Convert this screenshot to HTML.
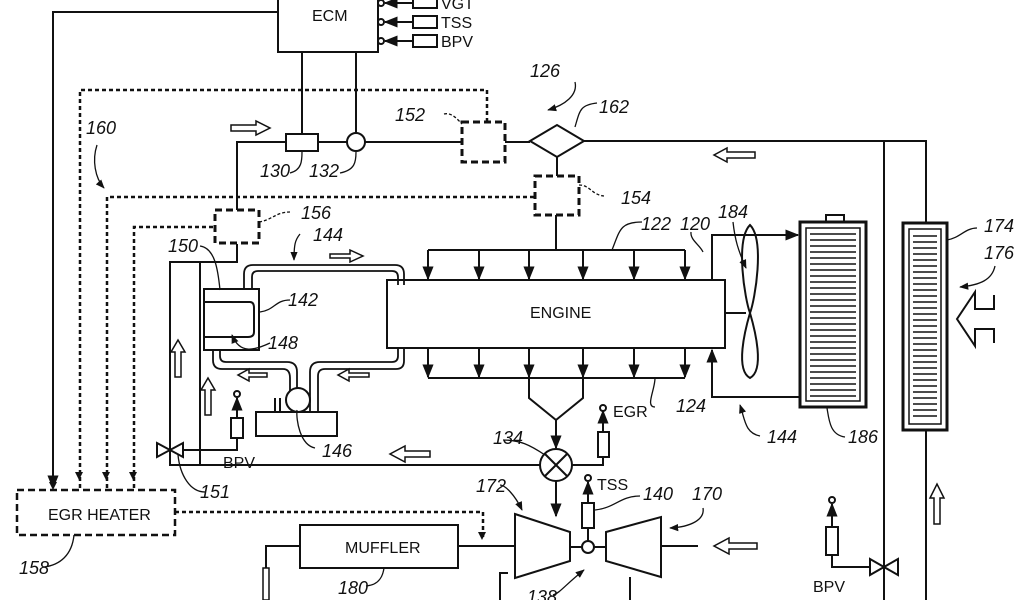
<!DOCTYPE html>
<html><head><meta charset="utf-8"><style>
html,body{margin:0;padding:0;background:#fff;}
svg{display:block;}
text{font-family:"Liberation Sans",sans-serif;fill:#111;}
.l{font-style:italic;font-size:18px;}
.t{font-size:16px;}
</style></head><body>
<svg width="1024" height="600" viewBox="0 0 1024 600" xmlns="http://www.w3.org/2000/svg">
<defs>
<marker id="a" viewBox="0 0 10 10" refX="9" refY="5" markerWidth="7" markerHeight="7" orient="auto"><path d="M0,1 L10,5 L0,9 z" fill="#111"/></marker>
</defs>
<g stroke="#111" stroke-width="2" fill="none">
<rect x="278" y="-2" width="100" height="54" fill="#fff"/>
<circle cx="381" cy="3" r="3"/><circle cx="381" cy="22" r="3"/><circle cx="381" cy="41" r="3"/>
<line x1="413" y1="3" x2="385" y2="3" marker-end="url(#a)"/>
<line x1="413" y1="22" x2="385" y2="22" marker-end="url(#a)"/>
<line x1="413" y1="41" x2="385" y2="41" marker-end="url(#a)"/>
<rect x="413" y="-3" width="24" height="11"/><rect x="413" y="16" width="24" height="12"/><rect x="413" y="35" width="24" height="12"/>
<polyline points="278,12 53,12 53,488" marker-end="url(#a)"/>
<line x1="302" y1="52" x2="302" y2="134"/>
<line x1="356" y1="52" x2="356" y2="133"/>
<polyline points="237,210 237,142 286,142"/>
<rect x="286" y="134" width="32" height="17"/>
<line x1="318" y1="142" x2="347" y2="142"/>
<circle cx="356" cy="142" r="9"/>
<line x1="365" y1="142" x2="462" y2="142"/>
<line x1="505" y1="142" x2="530" y2="142"/>
<polygon points="530,141 557,125 584,141 557,157"/>
<polyline points="584,141 926,141 926,223"/>
<line x1="884" y1="141" x2="884" y2="600"/>
<line x1="557" y1="157" x2="557" y2="176"/>
<polyline points="556,215 556,250"/>
<line x1="428" y1="250" x2="685" y2="250"/>
<line x1="428" y1="250" x2="428" y2="279" marker-end="url(#a)"/>
<line x1="479" y1="250" x2="479" y2="279" marker-end="url(#a)"/>
<line x1="529" y1="250" x2="529" y2="279" marker-end="url(#a)"/>
<line x1="583" y1="250" x2="583" y2="279" marker-end="url(#a)"/>
<line x1="634" y1="250" x2="634" y2="279" marker-end="url(#a)"/>
<line x1="685" y1="250" x2="685" y2="279" marker-end="url(#a)"/>
<rect x="387" y="280" width="338" height="68" fill="#fff"/>
<line x1="428" y1="348" x2="428" y2="377" marker-end="url(#a)"/>
<line x1="479" y1="348" x2="479" y2="377" marker-end="url(#a)"/>
<line x1="529" y1="348" x2="529" y2="377" marker-end="url(#a)"/>
<line x1="583" y1="348" x2="583" y2="377" marker-end="url(#a)"/>
<line x1="634" y1="348" x2="634" y2="377" marker-end="url(#a)"/>
<line x1="685" y1="348" x2="685" y2="377" marker-end="url(#a)"/>
<line x1="428" y1="378" x2="685" y2="378"/>
<polyline points="529,378 529,398 556,420 583,398 583,378"/>
<line x1="556" y1="420" x2="556" y2="448" marker-end="url(#a)"/>
<circle cx="556" cy="465" r="16"/>
<line x1="545" y1="454" x2="567" y2="476"/><line x1="567" y1="454" x2="545" y2="476"/>
<polyline points="572,465 603,465 603,457"/>
<rect x="598" y="432" width="11" height="25"/>
<line x1="603" y1="432" x2="603" y2="411" marker-end="url(#a)"/>
<circle cx="603" cy="408" r="3"/>
<line x1="556" y1="481" x2="556" y2="516" marker-end="url(#a)"/>
<polyline points="540,465 170,465 170,262 237,262 237,244"/>
<line x1="200" y1="262" x2="200" y2="465"/>
<polygon points="157,443 183,457 183,443 157,457" fill="#fff"/>
<polyline points="183,450 237,450 237,438"/>
<rect x="231" y="418" width="12" height="20"/>
<line x1="237" y1="418" x2="237" y2="398" marker-end="url(#a)"/>
<circle cx="237" cy="394" r="3"/>
<rect x="204" y="289" width="55" height="61"/>
<path d="M204,302 H250 Q254,302 254,308 V332 Q254,337 248,337 H204"/>
<path d="M244,289 V274 Q244,265 253,265 H395 Q404,265 404,274 V285" stroke-width="1.8"/>
<path d="M252,289 V277 Q252,271 258,271 H392 Q398,271 398,277 V285" stroke-width="1.8"/>
<path d="M213,350 V360 Q213,369 222,369 H283 Q290,369 290,378 V392" stroke-width="1.8"/>
<path d="M220,350 V356 Q220,362 226,362 H287 Q297,362 297,372 V388" stroke-width="1.8"/>
<path d="M310,412 V372 Q310,362 320,362 H392 Q398,362 398,356 V348" stroke-width="1.8"/>
<path d="M318,412 V376 Q318,369 325,369 H396 Q404,369 404,361 V348" stroke-width="1.8"/>
<circle cx="298" cy="400" r="12" fill="#fff"/>
<rect x="256" y="412" width="81" height="24" fill="#fff"/>
<line x1="275" y1="398" x2="275" y2="412"/><line x1="280" y1="398" x2="280" y2="412"/>
<rect x="17" y="490" width="158" height="45" stroke-dasharray="7,4" stroke-width="2.5"/>
<g stroke-dasharray="4,3" stroke-width="2.5">
<polyline points="80,488 80,90 487,90 487,122"/>
<polyline points="107,488 107,197 535,197"/>
<polyline points="134,488 134,227 215,227"/>
<polyline points="175,512 483,512 483,538"/>
</g>
<path d="M79,480 l-4,-8 h8z M106,480 l-4,-8 h8z M133,480 l-4,-8 h8z M482,540 l-4,-8 h8z" fill="#111" stroke="none"/>
<path d="M53,490 l-4,-8 h8z" fill="#111" stroke="none"/>
<g stroke-dasharray="7,4" stroke-width="3">
<rect x="462" y="122" width="43" height="40"/>
<rect x="535" y="176" width="44" height="39"/>
<polyline points="215,210 259,210 259,243 215,243 215,210"/>
</g>
<polygon points="515,514 570,532 570,561 515,578" fill="#fff"/>
<polygon points="606,532 661,517 661,577 606,561" fill="#fff"/>
<line x1="570" y1="547" x2="606" y2="547"/>
<circle cx="588" cy="547" r="6" fill="#fff"/>
<line x1="661" y1="546" x2="698" y2="546"/>
<line x1="588" y1="541" x2="588" y2="528"/>
<rect x="582" y="503" width="12" height="25"/>
<line x1="588" y1="503" x2="588" y2="482" marker-end="url(#a)"/>
<circle cx="588" cy="478" r="3"/>
<line x1="630" y1="577" x2="630" y2="600"/>
<polyline points="500,600 500,573 508,573"/>
<rect x="300" y="525" width="158" height="43"/>
<line x1="458" y1="546" x2="515" y2="546"/>
<polyline points="300,546 266,546 266,570"/>
<polyline points="725,280 712,280 712,235 798,235" marker-end="url(#a)"/>
<polyline points="800,397 712,397 712,350" marker-end="url(#a)"/>
<line x1="725" y1="313" x2="746" y2="313"/>
<path d="M750,225 C735,240 745,300 750,313 C755,300 765,240 750,225 Z"/>
<path d="M750,313 C745,330 735,370 750,378 C765,370 755,330 750,313 Z"/>
<rect x="800" y="222" width="66" height="185" stroke-width="3"/>
<rect x="806" y="228" width="54" height="173" stroke-width="1.5"/>
<rect x="826" y="215" width="18" height="7"/>
<rect x="903" y="223" width="44" height="207" stroke-width="3"/>
<rect x="909" y="229" width="32" height="195" stroke-width="1.5"/>
<line x1="926" y1="430" x2="926" y2="600"/>
<circle cx="832" cy="500" r="3"/>
<line x1="832" y1="527" x2="832" y2="504" marker-end="url(#a)"/>
<rect x="826" y="527" width="12" height="28"/>
<polyline points="832,555 832,567 870,567"/>
<polygon points="870,559 898,575 898,559 870,575" fill="#fff"/>
<g stroke-width="1.3">
<path d="M290,173 C302,170 302,160 302,152"/>
<path d="M340,173 C355,170 356,162 356,152"/>
<path d="M444,114 C452,112 458,120 462,124" stroke-dasharray="3,2"/>
<path d="M579,185 C590,185 592,195 604,196" stroke-dasharray="3,2"/>
<path d="M259,222 C272,220 276,212 290,212" stroke-dasharray="3,2"/>
<path d="M575,82 C578,95 565,105 548,110" marker-end="url(#a)"/>
<path d="M97,145 C92,160 95,178 104,188" marker-end="url(#a)"/>
<path d="M597,103 C580,105 580,110 575,127"/>
<path d="M642,222 C620,222 620,230 612,250"/>
<path d="M691,232 C690,240 700,245 703,252"/>
<path d="M733,222 C735,240 738,250 746,268" marker-end="url(#a)"/>
<path d="M977,228 C965,228 960,238 947,240"/>
<path d="M995,266 C992,280 980,285 960,287" marker-end="url(#a)"/>
<path d="M300,234 C295,240 294,245 294,260" marker-end="url(#a)"/>
<path d="M200,246 C215,248 218,270 220,290"/>
<path d="M290,300 C275,300 275,310 260,312"/>
<path d="M270,343 C255,350 240,355 232,335" marker-end="url(#a)"/>
<path d="M315,448 C300,445 296,420 297,410"/>
<path d="M205,492 C190,492 180,475 178,455"/>
<path d="M503,440 C520,440 530,445 545,455"/>
<path d="M655,407 C645,407 655,390 655,378"/>
<path d="M760,436 C745,433 745,420 740,405" marker-end="url(#a)"/>
<path d="M845,437 C830,435 829,420 827,408"/>
<path d="M500,485 C505,485 515,495 522,510" marker-end="url(#a)"/>
<path d="M640,496 C620,496 615,508 595,510"/>
<path d="M703,508 C705,520 690,527 670,528" marker-end="url(#a)"/>
<path d="M44,567 C60,565 72,555 74,535"/>
<path d="M366,586 C380,585 383,575 384,568"/>
<path d="M553,595 C560,593 565,585 584,570" marker-end="url(#a)"/>
</g>
<g stroke-width="1.5" fill="#fff">
<path d="M231,125 h25 v-4 l14,7 -14,7 v-4 h-25 z"/>
<path d="M330,254 h20 v-4 l13,6 -13,6 v-4 h-20 z"/>
<path d="M755,152 h-28 v-4 l-13,7 13,7 v-4 h28 z"/>
<path d="M267,373 h-18 v-4 l-11,6 11,6 v-4 h18 z"/>
<path d="M369,373 h-20 v-4 l-11,6 11,6 v-4 h20 z"/>
<path d="M430,451 h-25 v-5 l-15,8 15,8 v-5 h25 z"/>
<path d="M757,543 h-28 v-5 l-15,8 15,8 v-5 h28 z"/>
<path d="M175,377 v-25 h-4 l7,-12 7,12 h-4 v25 z"/>
<path d="M205,415 v-25 h-4 l7,-12 7,12 h-4 v25 z"/>
<path d="M934,524 v-26 h-4 l7,-14 7,14 h-4 v26 z"/>
<path d="M263,600 v-32 h6 v32 z"/>
<path d="M994,343 v-14 h-19 v17 l-18,-27 18,-27 v17 h19 v-14" stroke-width="2"/>
</g>
</g>
<g stroke="#111" stroke-width="1.5">
<path d="M810,234 H856 M810,240 H856 M810,246 H856 M810,252 H856 M810,258 H856 M810,264 H856 M810,270 H856 M810,276 H856 M810,282 H856 M810,288 H856 M810,294 H856 M810,300 H856 M810,306 H856 M810,312 H856 M810,318 H856 M810,324 H856 M810,330 H856 M810,336 H856 M810,342 H856 M810,348 H856 M810,354 H856 M810,360 H856 M810,366 H856 M810,372 H856 M810,378 H856 M810,384 H856 M810,390 H856 M810,396 H856"/>
<path d="M913,236 H937 M913,242 H937 M913,248 H937 M913,254 H937 M913,260 H937 M913,266 H937 M913,272 H937 M913,278 H937 M913,284 H937 M913,290 H937 M913,296 H937 M913,302 H937 M913,308 H937 M913,314 H937 M913,320 H937 M913,326 H937 M913,332 H937 M913,338 H937 M913,344 H937 M913,350 H937 M913,356 H937 M913,362 H937 M913,368 H937 M913,374 H937 M913,380 H937 M913,386 H937 M913,392 H937 M913,398 H937 M913,404 H937 M913,410 H937 M913,416 H937"/>
</g>
<text class="t" x="312" y="21">ECM</text>
<text class="t" x="441" y="9">VGT</text>
<text class="t" x="441" y="28">TSS</text>
<text class="t" x="441" y="47">BPV</text>
<text class="t" x="530" y="318">ENGINE</text>
<text class="t" x="613" y="417">EGR</text>
<text class="t" x="597" y="490">TSS</text>
<text class="t" x="223" y="468">BPV</text>
<text class="t" x="813" y="592">BPV</text>
<text class="t" x="48" y="520">EGR HEATER</text>
<text class="t" x="345" y="553">MUFFLER</text>
<g class="l">
<text x="86" y="134">160</text>
<text x="395" y="121">152</text>
<text x="530" y="77">126</text>
<text x="599" y="113">162</text>
<text x="260" y="177">130</text>
<text x="309" y="177">132</text>
<text x="301" y="219">156</text>
<text x="621" y="204">154</text>
<text x="641" y="230">122</text>
<text x="680" y="230">120</text>
<text x="718" y="218">184</text>
<text x="984" y="232">174</text>
<text x="984" y="259">176</text>
<text x="168" y="252">150</text>
<text x="313" y="241">144</text>
<text x="288" y="306">142</text>
<text x="268" y="349">148</text>
<text x="322" y="457">146</text>
<text x="200" y="498">151</text>
<text x="493" y="444">134</text>
<text x="676" y="412">124</text>
<text x="767" y="443">144</text>
<text x="848" y="443">186</text>
<text x="476" y="492">172</text>
<text x="643" y="500">140</text>
<text x="692" y="500">170</text>
<text x="19" y="574">158</text>
<text x="338" y="594">180</text>
<text x="527" y="603">138</text>
</g>
</svg>
</body></html>
